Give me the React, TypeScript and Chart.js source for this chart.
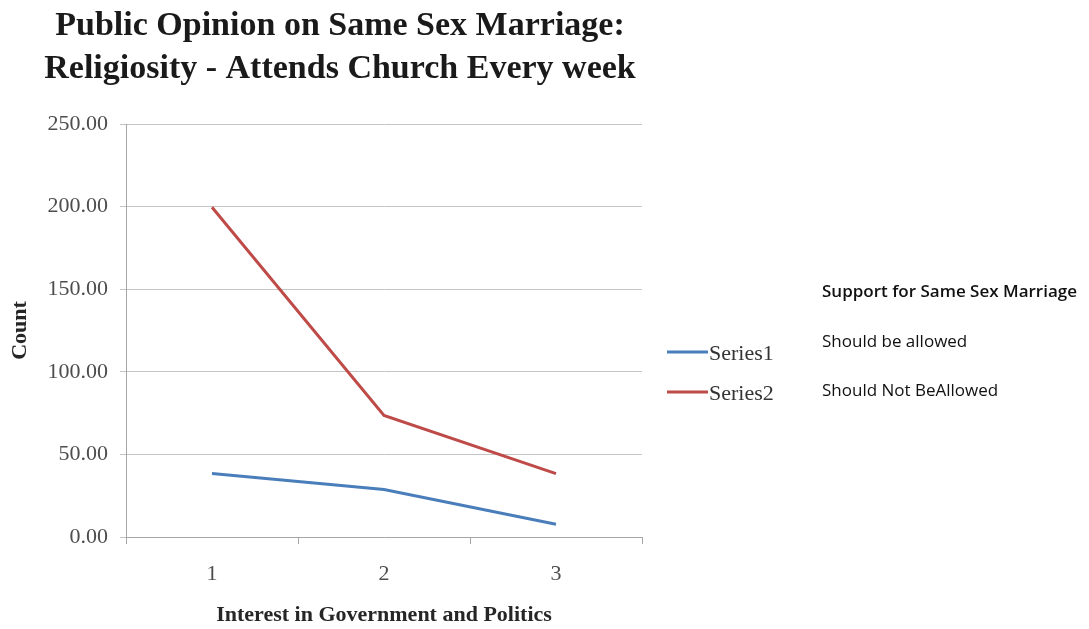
import { useEffect, useRef } from "react";
import { Chart, registerables } from "chart.js";

Chart.register(...registerables);

// Interest in government and politics (levels 1–3)
const categories = ["1", "2", "3"];
const seriesNames = ["Series1", "Series2"];
// Counts of respondents who attend church every week
const allowedCounts = [38.4, 28.7, 7.7];
const notAllowedCounts = [199.6, 73.6, 38.4];
const yTickValues = [0, 50, 100, 150, 200, 250];

const titleLines = [
  "Public Opinion on Same Sex Marriage:",
  "Religiosity - Attends Church Every week",
];
const xAxisTitle = "Interest in Government and Politics";
const yAxisTitle = "Count";
const noteHeading = "Support for Same Sex Marriage";
const noteLines = ["Should be allowed", "Should Not BeAllowed"];

const SERIF = "'Liberation Serif', 'Times New Roman', serif";
const SANS = "'Open Sans', 'Noto Sans', sans-serif";

const decorations = {
  id: "decorations",
  afterDraw(chart: any) {
    const ctx = chart.ctx as CanvasRenderingContext2D;
    ctx.save();

    // Two-line heading
    ctx.fillStyle = "#1a1a1a";
    ctx.font = `bold 34px ${SERIF}`;
    ctx.textAlign = "center";
    ctx.textBaseline = "alphabetic";
    ctx.fillText(titleLines[0], 340, 35);
    ctx.fillText(titleLines[1], 340, 78);

    // Series legend with line samples
    const legendYs = [352, 392];
    chart.data.datasets.forEach((ds: any, i: number) => {
      const y = legendYs[i];
      ctx.strokeStyle = ds.borderColor;
      ctx.lineWidth = 3;
      ctx.beginPath();
      ctx.moveTo(667, y);
      ctx.lineTo(708, y);
      ctx.stroke();
      ctx.fillStyle = "#333333";
      ctx.font = `22px ${SERIF}`;
      ctx.textAlign = "left";
      ctx.textBaseline = "alphabetic";
      ctx.fillText(ds.label, 709, y + 8);
    });

    // Explanatory notes for the series
    ctx.fillStyle = "#111111";
    ctx.textAlign = "left";
    ctx.textBaseline = "middle";
    ctx.font = `600 17px ${SANS}`;
    ctx.fillText(noteHeading, 822, 292);
    ctx.font = `17px ${SANS}`;
    ctx.fillText(noteLines[0], 822, 342);
    ctx.fillText(noteLines[1], 822, 391);

    ctx.restore();
  },
};

export default function App() {
  const canvasRef = useRef<HTMLCanvasElement | null>(null);

  useEffect(() => {
    if (!canvasRef.current) return;
    const chart = new Chart(canvasRef.current, {
      type: "line",
      data: {
        labels: categories,
        datasets: [
          {
            label: seriesNames[0],
            data: allowedCounts,
            borderColor: "#4a7ebb",
            backgroundColor: "#4a7ebb",
            borderWidth: 3,
            pointRadius: 0,
            tension: 0,
          },
          {
            label: seriesNames[1],
            data: notAllowedCounts,
            borderColor: "#be4b48",
            backgroundColor: "#be4b48",
            borderWidth: 3,
            pointRadius: 0,
            tension: 0,
          },
        ],
      },
      options: {
        animation: false,
        responsive: true,
        maintainAspectRatio: false,
        layout: { padding: { left: 0, top: 124, right: 447, bottom: 0 } },
        plugins: {
          legend: { display: false },
          title: { display: false },
          tooltip: { enabled: false },
        },
        scales: {
          x: {
            type: "category",
            offset: true,
            grid: {
              display: true,
              offset: true,
              drawOnChartArea: false,
              drawTicks: true,
              tickLength: 7,
              color: "#a6a6a6",
            },
            border: { color: "#a6a6a6", width: 1 },
            ticks: {
              color: "#4d4d4d",
              font: { family: SERIF, size: 22 },
              padding: 17,
            },
            title: {
              display: true,
              text: xAxisTitle,
              color: "#262626",
              font: { family: SERIF, size: 22, weight: "bold" },
              padding: { top: 0, bottom: 0 },
            },
            afterFit(scale: any) {
              scale.height = 92;
            },
          },
          y: {
            min: 0,
            max: 250,
            afterBuildTicks(scale: any) {
              scale.ticks = yTickValues.map((v) => ({ value: v }));
            },
            grid: {
              color: "#c4c4c4",
              drawTicks: true,
              tickLength: 6,
            },
            border: { color: "#a6a6a6", width: 1 },
            ticks: {
              color: "#4d4d4d",
              font: { family: SERIF, size: 22 },
              padding: 12,
              callback: (v: any) => Number(v).toFixed(2),
            },
            title: {
              display: true,
              text: yAxisTitle,
              color: "#262626",
              font: { family: SERIF, size: 22, weight: "bold" },
              padding: { top: 7, bottom: 0 },
            },
            afterFit(scale: any) {
              scale.width = 126;
            },
          },
        },
      },
      plugins: [decorations],
    });
    return () => chart.destroy();
  }, []);

  return (
    <div
      style={{
        position: "fixed",
        left: 0,
        top: 0,
        width: 1089,
        height: 629,
        background: "#ffffff",
      }}
    >
      <canvas ref={canvasRef} />
    </div>
  );
}
